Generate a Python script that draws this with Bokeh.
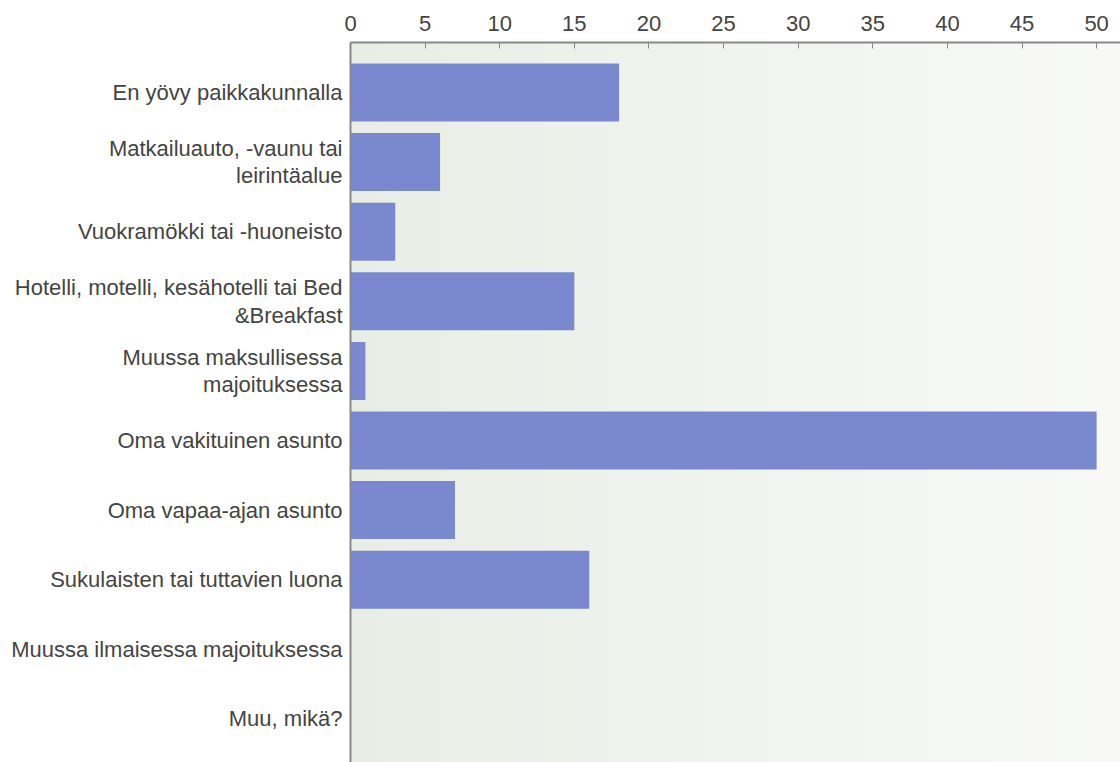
from bokeh.plotting import figure
from bokeh.models import Range1d, FixedTicker, BoxAnnotation
from bokeh.embed import file_html
from bokeh.resources import INLINE

categories = [
    "En yövy paikkakunnalla",
    "Matkailuauto, -vaunu tai\nleirintäalue",
    "Vuokramökki tai -huoneisto",
    "Hotelli, motelli, kesähotelli tai Bed\n&Breakfast",
    "Muussa maksullisessa\nmajoituksessa",
    "Oma vakituinen asunto",
    "Oma vapaa-ajan asunto",
    "Sukulaisten tai tuttavien luona",
    "Muussa ilmaisessa majoituksessa",
    "Muu, mikä?",
]
values = [18, 6, 3, 15, 1, 50, 7, 16, 0, 0]
x_ticks = [0, 5, 10, 15, 20, 25, 30, 35, 40, 45, 50]

positions = list(range(len(categories)))

W, H, L, T = 1120, 762, 350, 42
p = figure(width=W, height=H, output_backend="svg", toolbar_location=None,
           x_range=Range1d(0, 51.6), y_range=Range1d(9.626, -0.718),
           x_axis_location="above", min_border_left=L, min_border_top=T,
           min_border_right=0, min_border_bottom=0)
p.outline_line_color = None
p.background_fill_color = "#eff3ee"

# background gradient (left greener, right lighter)
n = 24
c0 = (0xe8, 0xee, 0xe6)
c1 = (0xf8, 0xf9, 0xf7)
frame_w = W - L
for i in range(n):
    t = i / (n - 1)
    col = "#%02x%02x%02x" % tuple(int(round(a + (b - a) * t)) for a, b in zip(c0, c1))
    p.add_layout(BoxAnnotation(left=i * frame_w / n, right=(i + 1) * frame_w / n + 1,
                               left_units="screen", right_units="screen",
                               fill_color=col, fill_alpha=1, line_color=None, level="underlay"))

p.hbar(y=positions, right=values, left=0, height=0.833, fill_color="#7a89cf", line_color=None)

p.xaxis.ticker = FixedTicker(ticks=x_ticks)
p.xaxis.axis_line_color = "#888888"
p.xaxis.axis_line_width = 2
p.xaxis.major_tick_in = 6
p.xaxis.major_tick_out = 0
p.xaxis.major_tick_line_color = "#888888"
p.xaxis.minor_tick_line_color = None
p.xaxis.major_label_text_font = "Liberation Sans"
p.xaxis.major_label_text_font_size = "22px"
p.xaxis.major_label_text_color = "#444444"
p.xaxis.major_label_standoff = 12

p.yaxis.ticker = FixedTicker(ticks=positions)
p.yaxis.major_label_overrides = {i: c for i, c in enumerate(categories)}
p.yaxis.axis_line_color = "#888888"
p.yaxis.axis_line_width = 2
p.yaxis.major_tick_line_color = None
p.yaxis.minor_tick_line_color = None
p.yaxis.major_label_text_font = "Liberation Sans"
p.yaxis.major_label_text_font_size = "22px"
p.yaxis.major_label_text_color = "#444444"
p.yaxis.major_label_text_line_height = 1.1
p.yaxis.major_label_standoff = 2

p.xgrid.ticker = FixedTicker(ticks=x_ticks)
p.xgrid.grid_line_color = "#d6d9d6"
p.xgrid.grid_line_width = 1
p.ygrid.grid_line_color = None

open("out.html", "w").write(file_html(p, INLINE))
